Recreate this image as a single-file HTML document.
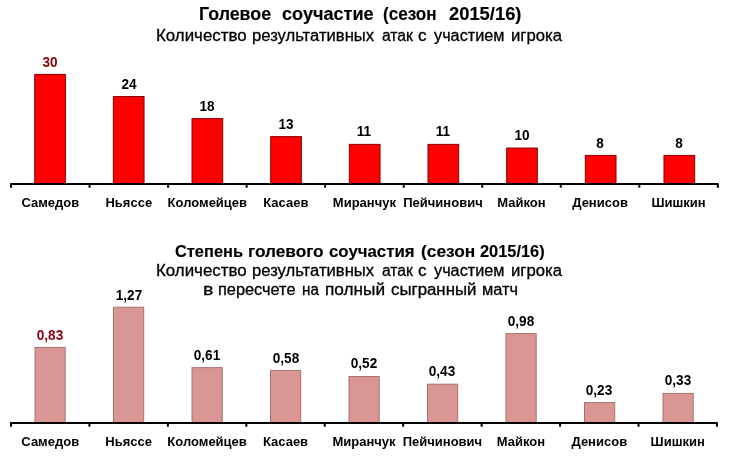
<!DOCTYPE html>
<html lang="ru"><head><meta charset="utf-8"><title>Голевое соучастие</title>
<style>
html,body{margin:0;padding:0;background:#fff;}
body{width:730px;height:464px;position:relative;overflow:hidden;font-family:"Liberation Sans",sans-serif;color:#000;}
svg{position:absolute;left:0;top:0;}
.ln{position:absolute;left:0;top:0;width:730px;height:20px;line-height:20px;white-space:nowrap;}
.ln span{position:absolute;top:0;transform-origin:0 0;}
.l{position:absolute;width:120px;text-align:center;font-weight:bold;font-size:13px;line-height:16px;white-space:nowrap;}
.v{position:absolute;width:80px;text-align:center;transform:scaleX(0.972);font-weight:bold;font-size:14px;line-height:16px;white-space:nowrap;}
.d{color:#8a0010;}
</style></head><body>
<svg width="730" height="464" viewBox="0 0 730 464">
<rect x="34.70" y="74.40" width="30.70" height="110.10" fill="#ff0000" stroke="#8c0000" stroke-width="1"/>
<rect x="113.36" y="96.49" width="30.70" height="88.01" fill="#ff0000" stroke="#8c0000" stroke-width="1"/>
<rect x="192.02" y="118.58" width="30.70" height="65.92" fill="#ff0000" stroke="#8c0000" stroke-width="1"/>
<rect x="270.68" y="136.60" width="30.70" height="47.90" fill="#ff0000" stroke="#8c0000" stroke-width="1"/>
<rect x="349.34" y="144.36" width="30.70" height="40.14" fill="#ff0000" stroke="#8c0000" stroke-width="1"/>
<rect x="428.00" y="144.36" width="30.70" height="40.14" fill="#ff0000" stroke="#8c0000" stroke-width="1"/>
<rect x="506.66" y="148.04" width="30.70" height="36.46" fill="#ff0000" stroke="#8c0000" stroke-width="1"/>
<rect x="585.32" y="155.40" width="30.70" height="29.10" fill="#ff0000" stroke="#8c0000" stroke-width="1"/>
<rect x="663.98" y="155.40" width="30.70" height="29.10" fill="#ff0000" stroke="#8c0000" stroke-width="1"/>
<path d="M11.00,187.80 L11.00,184.00 L717.86,184.00 L717.86,187.80 M89.54,184.00 L89.54,187.80 M168.08,184.00 L168.08,187.80 M246.62,184.00 L246.62,187.80 M325.16,184.00 L325.16,187.80 M403.70,184.00 L403.70,187.80 M482.24,184.00 L482.24,187.80 M560.78,184.00 L560.78,187.80 M639.32,184.00 L639.32,187.80" fill="none" stroke="#000" stroke-width="2" stroke-linejoin="round"/>
<rect x="35.00" y="347.39" width="30.20" height="76.11" fill="#d99694" stroke="#a67270" stroke-width="1"/>
<rect x="113.50" y="307.20" width="30.20" height="116.30" fill="#d99694" stroke="#a67270" stroke-width="1"/>
<rect x="192.00" y="367.63" width="30.20" height="55.87" fill="#d99694" stroke="#a67270" stroke-width="1"/>
<rect x="270.50" y="370.39" width="30.20" height="53.11" fill="#d99694" stroke="#a67270" stroke-width="1"/>
<rect x="349.00" y="376.50" width="30.20" height="47.00" fill="#d99694" stroke="#a67270" stroke-width="1"/>
<rect x="427.50" y="384.19" width="30.20" height="39.31" fill="#d99694" stroke="#a67270" stroke-width="1"/>
<rect x="506.00" y="333.59" width="30.20" height="89.91" fill="#d99694" stroke="#a67270" stroke-width="1"/>
<rect x="584.50" y="402.59" width="30.20" height="20.91" fill="#d99694" stroke="#a67270" stroke-width="1"/>
<rect x="663.00" y="393.39" width="30.20" height="30.11" fill="#d99694" stroke="#a67270" stroke-width="1"/>
<path d="M11.00,426.80 L11.00,423.00 L716.96,423.00 L716.96,426.80 M89.44,423.00 L89.44,426.80 M167.88,423.00 L167.88,426.80 M246.32,423.00 L246.32,426.80 M324.76,423.00 L324.76,426.80 M403.20,423.00 L403.20,426.80 M481.64,423.00 L481.64,426.80 M560.08,423.00 L560.08,426.80 M638.52,423.00 L638.52,426.80" fill="none" stroke="#000" stroke-width="2" stroke-linejoin="round"/>
</svg>
<div class="ln" style="top:4.00px;font-size:17.5px;font-weight:bold;-webkit-text-stroke:0.15px #000;">
<span style="left:199.48px;transform:scaleX(1.0174)">Голевое</span>
<span style="left:281.88px;transform:scaleX(1.0344)">соучастие</span>
<span style="left:382.92px;transform:scaleX(0.9772)">(сезон</span>
<span style="left:448.87px;transform:scaleX(1.0488)">2015/16)</span>
</div>
<div class="ln" style="top:25.50px;font-size:16px;font-weight:normal;-webkit-text-stroke:0.3px #000;">
<span style="left:156.13px;transform:scaleX(1.0548)">Количество</span>
<span style="left:252.26px;transform:scaleX(1.0396)">результативных</span>
<span style="left:381.82px;transform:scaleX(0.9773)">атак</span>
<span style="left:418.05px;transform:scaleX(1.0725)">с</span>
<span style="left:433.70px;transform:scaleX(1.0161)">участием</span>
<span style="left:511.35px;transform:scaleX(1.0440)">игрока</span>
</div>
<div class="ln" style="top:241.50px;font-size:16px;font-weight:bold;-webkit-text-stroke:0.15px #000;">
<span style="left:174.98px;transform:scaleX(1.0246)">Степень</span>
<span style="left:248.32px;transform:scaleX(1.0758)">голевого</span>
<span style="left:329.27px;transform:scaleX(1.0502)">соучастия</span>
<span style="left:420.94px;transform:scaleX(1.0809)">(сезон</span>
<span style="left:479.99px;transform:scaleX(1.0227)">2015/16)</span>
</div>
<div class="ln" style="top:260.50px;font-size:16px;font-weight:normal;-webkit-text-stroke:0.3px #000;">
<span style="left:156.13px;transform:scaleX(1.0548)">Количество</span>
<span style="left:252.26px;transform:scaleX(1.0396)">результативных</span>
<span style="left:381.82px;transform:scaleX(0.9773)">атак</span>
<span style="left:418.05px;transform:scaleX(1.0725)">с</span>
<span style="left:433.70px;transform:scaleX(1.0161)">участием</span>
<span style="left:511.35px;transform:scaleX(1.0440)">игрока</span>
</div>
<div class="ln" style="top:279.50px;font-size:16px;font-weight:normal;-webkit-text-stroke:0.3px #000;">
<span style="left:203.45px;transform:scaleX(1.2239)">в</span>
<span style="left:217.68px;transform:scaleX(1.0202)">пересчете</span>
<span style="left:302.45px;transform:scaleX(0.9518)">на</span>
<span style="left:325.32px;transform:scaleX(1.0765)">полный</span>
<span style="left:390.66px;transform:scaleX(1.0516)">сыгранный</span>
<span style="left:481.57px;transform:scaleX(1.0273)">матч</span>
</div>
<div class="v d" style="left:10.27px;top:53.75px">30</div>
<div class="l" style="left:-9.73px;top:194.80px">Самедов</div>
<div class="v" style="left:88.81px;top:75.84px">24</div>
<div class="l" style="left:68.81px;top:194.80px">Ньяссе</div>
<div class="v" style="left:167.35px;top:97.93px">18</div>
<div class="l" style="left:147.35px;top:194.80px">Коломейцев</div>
<div class="v" style="left:245.89px;top:115.95px">13</div>
<div class="l" style="left:225.89px;top:194.80px">Касаев</div>
<div class="v" style="left:324.43px;top:122.71px">11</div>
<div class="l" style="left:304.43px;top:194.80px">Миранчук</div>
<div class="v" style="left:402.97px;top:122.71px">11</div>
<div class="l" style="left:382.97px;top:194.80px">Пейчинович</div>
<div class="v" style="left:481.51px;top:127.39px">10</div>
<div class="l" style="left:461.51px;top:194.80px">Майкон</div>
<div class="v" style="left:560.05px;top:134.75px">8</div>
<div class="l" style="left:540.05px;top:194.80px">Денисов</div>
<div class="v" style="left:638.59px;top:134.75px">8</div>
<div class="l" style="left:618.59px;top:194.80px">Шишкин</div>
<div class="v d" style="left:10.22px;top:326.74px">0,83</div>
<div class="l" style="left:-9.78px;top:433.50px">Самедов</div>
<div class="v" style="left:88.66px;top:286.55px">1,27</div>
<div class="l" style="left:68.66px;top:433.50px">Ньяссе</div>
<div class="v" style="left:167.10px;top:346.98px">0,61</div>
<div class="l" style="left:147.10px;top:433.50px">Коломейцев</div>
<div class="v" style="left:245.54px;top:349.74px">0,58</div>
<div class="l" style="left:225.54px;top:433.50px">Касаев</div>
<div class="v" style="left:323.98px;top:354.85px">0,52</div>
<div class="l" style="left:303.98px;top:433.50px">Миранчук</div>
<div class="v" style="left:402.42px;top:362.54px">0,43</div>
<div class="l" style="left:382.42px;top:433.50px">Пейчинович</div>
<div class="v" style="left:480.86px;top:312.94px">0,98</div>
<div class="l" style="left:460.86px;top:433.50px">Майкон</div>
<div class="v" style="left:559.30px;top:381.94px">0,23</div>
<div class="l" style="left:539.30px;top:433.50px">Денисов</div>
<div class="v" style="left:637.74px;top:371.74px">0,33</div>
<div class="l" style="left:617.74px;top:433.50px">Шишкин</div>
</body></html>
